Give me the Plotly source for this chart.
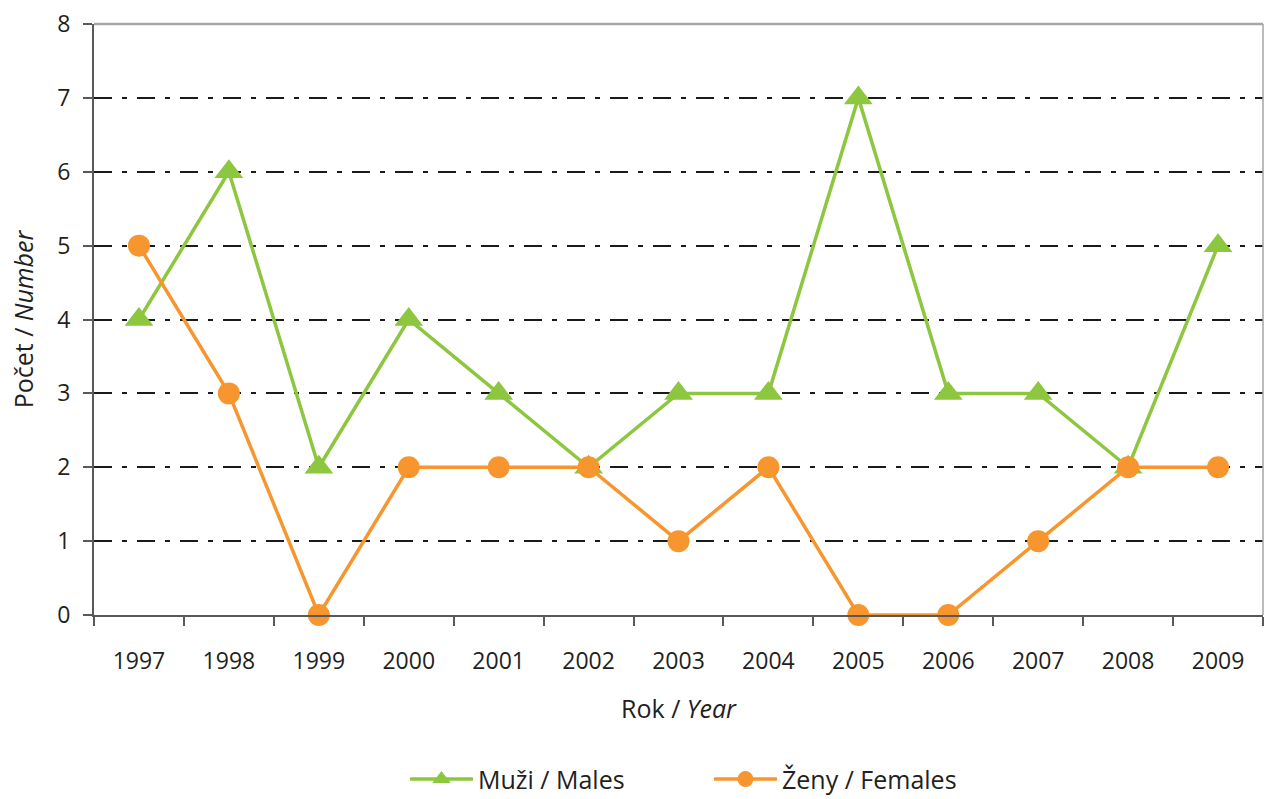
import plotly.graph_objects as go

years = ["1997", "1998", "1999", "2000", "2001", "2002", "2003",
         "2004", "2005", "2006", "2007", "2008", "2009"]
males = [4, 6, 2, 4, 3, 2, 3, 3, 7, 3, 3, 2, 5]
females = [5, 3, 0, 2, 2, 2, 1, 2, 0, 0, 1, 2, 2]

FONT = "Open Sans"
GREEN = "#8DC63F"
ORANGE = "#F7962F"

fig = go.Figure()
fig.add_trace(go.Scatter(
    x=years, y=males, name="Muži / Males", mode="lines+markers",
    line=dict(color=GREEN, width=3.5),
    marker=dict(symbol="triangle-up", size=25, color=GREEN),
    cliponaxis=False))
fig.add_trace(go.Scatter(
    x=years, y=females, name="Ženy / Females", mode="lines+markers",
    line=dict(color=ORANGE, width=3.5),
    marker=dict(symbol="circle", size=22, color=ORANGE),
    cliponaxis=False))

fig.update_layout(
    width=1264, height=799,
    margin=dict(l=94, r=1, t=24, b=184, autoexpand=False),
    paper_bgcolor="white", plot_bgcolor="white",
    font=dict(family=FONT, size=23, color="#231f20"),
    showlegend=True,
    legend=dict(orientation="h", x=0.266, xanchor="left", y=-0.278, yanchor="middle",
                font=dict(size=25), itemwidth=63, entrywidth=226),
    xaxis=dict(
        type="category", range=[-0.5, 12.5], tickson="boundaries",
        ticks="outside", ticklen=9, automargin=False,
        tickcolor="#595959", tickwidth=1.5,
        showline=True, linecolor="#595959", linewidth=2,
        showgrid=False, zeroline=False,
        tickfont=dict(size=23), ticklabelstandoff=24,
        title=dict(text="Rok / <i>Year</i>", font=dict(size=25), standoff=26),
    ),
    yaxis=dict(
        range=[0, 8], dtick=1, ticks="outside", ticklen=9, automargin=False,
        tickcolor="#595959", tickwidth=1.5,
        showline=True, linecolor="#595959", linewidth=2,
        showgrid=True, gridcolor="#1a1a1a", gridwidth=2,
        griddash="18px,10px,5px,10px",
        zeroline=False,
        tickfont=dict(size=23), ticklabelstandoff=8,
        title=dict(text="Počet / <i>Number</i>", font=dict(size=25), standoff=16),
    ),
    shapes=[
        dict(type="line", xref="paper", yref="paper", x0=0, x1=1, y0=1, y1=1,
             line=dict(color="#a6a6a6", width=2.5)),
        dict(type="line", xref="paper", yref="paper", x0=1, x1=1, y0=0, y1=1,
             line=dict(color="#a6a6a6", width=1.5)),
    ],
)

fig.write_html(
    "out.html",
    config={"displayModeBar": False},
    post_script="document.body.style.margin='0';document.body.style.overflow='hidden';",
)
